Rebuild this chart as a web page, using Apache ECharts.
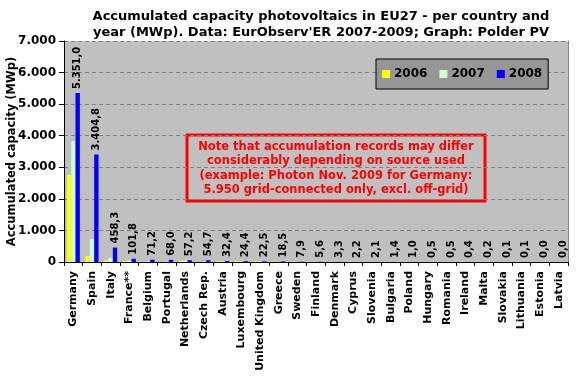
<!DOCTYPE html>
<html><head><meta charset="utf-8">
<script src="https://cdn.jsdelivr.net/npm/echarts@6/dist/echarts.min.js"></script>
<style>html,body{margin:0;padding:0;background:#fff}#c{width:581px;height:381px}</style>
</head><body><div id="c"></div>
<script>
const categories = ["Germany","Spain","Italy","France**","Belgium","Portugal","Netherlands","Czech Rep.","Austria","Luxembourg","United Kingdom","Greece","Sweden","Finland","Denmark","Cyprus","Slovenia","Bulgaria","Poland","Hungary","Romania","Ireland","Malta","Slovakia","Lithuania","Estonia","Latvia"];
const values2006 = [2760,190,60,33,4,3,52,0.8,26,23.6,14,6.7,4.9,4.8,2.9,1.0,0.4,0.1,0.4,0.3,0.2,0.3,0.1,0.0,0.0,0.0,0.0];
const values2007 = [3830,730,130,47,22,18,53,4,28,23.9,18,9.2,6.2,5.1,3.1,1.3,1.0,0.1,0.6,0.4,0.3,0.4,0.1,0.0,0.0,0.0,0.0];
const values2008 = [5351.0,3404.8,458.3,101.8,71.2,68.0,57.2,54.7,32.4,24.4,22.5,18.5,7.9,5.6,3.3,2.2,2.1,1.4,1.0,0.5,0.5,0.4,0.2,0.1,0.1,0.0,0.0];
const yTicks = [0,1000,2000,3000,4000,5000,6000,7000];
const titleLines = ["Accumulated capacity photovoltaics in EU27 - per country and","year (MWp). Data: EurObserv'ER 2007-2009; Graph: Polder PV"];
const noteLines = ["Note that accumulation records may differ","considerably depending on source used","(example: Photon Nov. 2009 for Germany:","5.950 grid-connected only, excl. off-grid)"];

function fmt(v, dec){
  const s = v.toFixed(dec);
  let [i, d] = s.split('.');
  i = i.replace(/\B(?=(\d{3})+(?!\d))/g, '.');
  return d !== undefined ? i + ',' + d : i;
}
const F = '"DejaVu Sans", Verdana, sans-serif';
const chart = echarts.init(document.getElementById('c'));
chart.setOption({
  animation: false,
  backgroundColor: '#fff',
  title: {
    text: titleLines.join('\n'), left: 316, top: 4, textAlign: 'center',
    textStyle: {fontFamily: F, fontSize: 13, fontWeight: 'bold', color: '#000', lineHeight: 16}
  },
  legend: {
    left: 376, top: 59, padding: [9, 6, 9, 6],
    backgroundColor: '#969696', borderColor: '#000', borderWidth: 1,
    itemWidth: 8, itemHeight: 8, itemGap: 12, icon: 'rect',
    textStyle: {fontFamily: F, fontSize: 12, fontWeight: 'bold', color: '#000', padding: [0,0,0,-1]},
    data: ['2006','2007','2008']
  },
  grid: {left: 64, right: 13, top: 41, bottom: 119, backgroundColor: '#C0C0C0', show: true, borderWidth: 0,
    containLabel: false, outerBoundsMode: 'none'},
  xAxis: {
    type: 'category', data: categories,
    axisLine: {lineStyle: {color: '#000', width: 1}},
    axisTick: {show: true, length: 4, lineStyle: {color: '#000'}},
    axisLabel: {rotate: 90, interval: 0, margin: 9, fontFamily: F, fontSize: 11, fontWeight: 'bold', color: '#000'}
  },
  yAxis: [{
    type: 'value', min: 0, max: 7000, interval: 1000,
    name: 'Accumulated capacity (MWp)', nameLocation: 'middle', nameGap: 46, nameRotate: 90, nameMoveOverlap: false,
    nameTextStyle: {fontFamily: F, fontSize: 11.5, fontWeight: 'bold', color: '#000'},
    axisLine: {show: true, lineStyle: {color: '#000'}},
    axisTick: {show: true, length: 5, lineStyle: {color: '#000'}},
    axisLabel: {fontFamily: F, fontSize: 12, fontWeight: 'bold', color: '#000', margin: 8, formatter: v => fmt(v, 0)},
    splitLine: {show: true, lineStyle: {color: '#808080', type: [4, 3], width: 1}}
  }, {
    type: 'value', min: 0, max: 7000, interval: 1000, position: 'right',
    axisLine: {show: true, lineStyle: {color: '#808080'}},
    axisTick: {show: false}, axisLabel: {show: false}, splitLine: {show: false}
  }],
  series: [
    {name: '2006', type: 'bar', data: values2006, itemStyle: {color: '#FFFF00'}, barGap: '0%', barCategoryGap: '30%'},
    {name: '2007', type: 'bar', data: values2007, itemStyle: {color: '#CCFFCC'}, barGap: '0%', barCategoryGap: '30%'},
    {name: '2008', type: 'bar', data: values2008, itemStyle: {color: '#0000FF'}, barGap: '0%', barCategoryGap: '30%',
      label: {show: true, position: 'top', rotate: 90, align: 'left', verticalAlign: 'middle', distance: 4,
        fontFamily: F, fontSize: 10, fontWeight: 'bold', color: '#000', formatter: p => fmt(p.value, 1)}}
  ],
  graphic: [
    {type: 'rect', shape: {x: 187, y: 135, width: 298, height: 66}, style: {fill: 'rgba(0,0,0,0)', stroke: '#FF0000', lineWidth: 3}},
    {type: 'text', x: 336, y: 140, style: {text: noteLines.join('\n'), textAlign: 'center', fill: '#FF0000', fontFamily: F, fontSize: 11.5, fontWeight: 'bold', lineHeight: 14.3}}
  ]
});
</script></body></html>
